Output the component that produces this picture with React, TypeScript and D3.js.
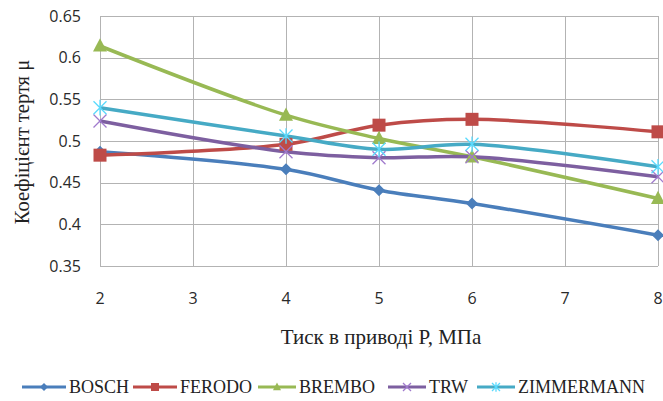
import { useEffect, useRef } from 'react';
import * as d3 from 'd3';

const pressures = [2, 4, 5, 6, 8];
const xTicks = [2, 3, 4, 5, 6, 7, 8];
const yTicks = [0.35, 0.4, 0.45, 0.5, 0.55, 0.6, 0.65];

const bosch = [0.487, 0.466, 0.441, 0.425, 0.387];
const ferodo = [0.483, 0.496, 0.519, 0.526, 0.511];
const brembo = [0.614, 0.531, 0.503, 0.481, 0.431];
const trw = [0.524, 0.487, 0.480, 0.481, 0.457];
const zimmermann = [0.540, 0.506, 0.490, 0.496, 0.469];

const seriesNames = ['BOSCH', 'FERODO', 'BREMBO', 'TRW', 'ZIMMERMANN'];
const seriesValues = [bosch, ferodo, brembo, trw, zimmermann];
const seriesColors = ['#4a7ebb', '#be4b48', '#98b954', '#7d5fa0', '#46aac5'];
const markerKinds = ['diamond', 'square', 'triangle', 'x', 'star'];

const WIDTH = 663;
const HEIGHT = 401;

function drawMarker(g: d3.Selection<SVGGElement, unknown, null, undefined>, kind: string, color: string, s: number) {
  if (kind === 'diamond') {
    g.append('path').attr('d', `M0,${-s}L${s},0L0,${s}L${-s},0Z`).attr('fill', color);
  } else if (kind === 'square') {
    g.append('rect').attr('x', -s).attr('y', -s).attr('width', 2 * s).attr('height', 2 * s).attr('fill', color);
  } else if (kind === 'triangle') {
    g.append('path').attr('d', `M0,${-s * 1.1}L${s},${s * 0.8}L${-s},${s * 0.8}Z`).attr('fill', color);
  } else if (kind === 'x') {
    g.append('path').attr('d', `M${-s},${-s}L${s},${s}M${-s},${s}L${s},${-s}`)
      .attr('stroke', d3.color(color)!.brighter(0.7).formatHex()).attr('stroke-width', 1.3);
  } else {
    g.append('path').attr('d', `M${-s},${-s}L${s},${s}M${-s},${s}L${s},${-s}M0,${-s * 1.2}L0,${s * 1.2}`)
      .attr('stroke', d3.color(color)!.brighter(0.7).formatHex()).attr('stroke-width', 1.3);
  }
}

function FrictionChart() {
  const svgRef = useRef<SVGSVGElement>(null);

  useEffect(() => {
    if (!svgRef.current) return;
    const svg = d3.select(svgRef.current);
    svg.selectAll('*').remove();

    const left = 100, right = 658, top = 16, bottom = 266;
    const x = d3.scaleLinear().domain([2, 8]).range([left, right]);
    const y = d3.scaleLinear().domain([0.35, 0.65]).range([bottom, top]);

    const grid = svg.append('g').attr('stroke', '#b3b3b3').attr('stroke-width', 1);
    yTicks.forEach(t => {
      grid.append('line').attr('x1', left).attr('x2', right)
        .attr('y1', Math.round(y(t)) + 0.5).attr('y2', Math.round(y(t)) + 0.5);
    });
    xTicks.forEach(t => {
      grid.append('line').attr('y1', top).attr('y2', bottom)
        .attr('x1', Math.round(x(t)) + 0.5).attr('x2', Math.round(x(t)) + 0.5);
    });

    const tickFont = '"Open Sans", sans-serif';
    svg.append('g').selectAll('text').data(yTicks).join('text')
      .attr('x', 81).attr('y', d => y(d)).attr('dy', '0.36em')
      .attr('text-anchor', 'end').attr('font-family', tickFont).attr('font-size', 16)
      .attr('fill', '#2a2a2a').text(d => String(+d.toFixed(2)));
    svg.append('g').selectAll('text').data(xTicks).join('text')
      .attr('x', d => x(d)).attr('y', 298).attr('dy', '0.36em')
      .attr('text-anchor', 'middle').attr('font-family', tickFont).attr('font-size', 16)
      .attr('fill', '#2a2a2a').text(d => String(d));

    const serif = '"Liberation Serif", "Times New Roman", serif';
    svg.append('text')
      .attr('transform', `translate(22,142) rotate(-90)`).attr('dy', '0.35em')
      .attr('text-anchor', 'middle').attr('font-family', serif).attr('font-size', 20.5)
      .attr('fill', '#222').text('Коефіцієнт тертя μ');
    svg.append('text')
      .attr('x', 381).attr('y', 337).attr('dy', '0.35em')
      .attr('text-anchor', 'middle').attr('font-family', serif).attr('font-size', 21)
      .attr('fill', '#222').text('Тиск в приводі Р, МПа');

    const line = d3.line<number>()
      .x((_, i) => x(pressures[i]))
      .y(d => y(d))
      .curve(d3.curveCatmullRom.alpha(0.5));

    seriesValues.forEach((vals, si) => {
      svg.append('path').datum(vals).attr('d', line)
        .attr('fill', 'none').attr('stroke', seriesColors[si]).attr('stroke-width', 3.5)
        .attr('stroke-linejoin', 'round');
    });
    const markerSizes = [6, 6.5, 7, 6.5, 6.5];
    seriesValues.forEach((vals, si) => {
      vals.forEach((v, i) => {
        const g = svg.append('g').attr('transform', `translate(${x(pressures[i])},${y(v)})`);
        drawMarker(g, markerKinds[si], seriesColors[si], markerSizes[si]);
      });
    });

    const legendX = [22, 133, 258, 388, 477];
    const legendY = 387;
    seriesNames.forEach((name, si) => {
      const lx = legendX[si];
      const lw = si < 2 ? 44 : 38;
      svg.append('line').attr('x1', lx).attr('x2', lx + lw).attr('y1', legendY).attr('y2', legendY)
        .attr('stroke', seriesColors[si]).attr('stroke-width', 3);
      const g = svg.append('g').attr('transform', `translate(${lx + lw / 2},${legendY})`);
      drawMarker(g, markerKinds[si], seriesColors[si], 4);
      svg.append('text').attr('x', lx + lw + 3).attr('y', legendY).attr('dy', '0.35em')
        .attr('font-family', serif).attr('font-size', 18).attr('fill', '#222').text(name);
    });
  }, []);

  return (
    <svg ref={svgRef} width={WIDTH} height={HEIGHT}
      style={{ position: 'absolute', left: 0, top: 0, background: '#fff' }} />
  );
}

export default function App() {
  return <FrictionChart />;
}
